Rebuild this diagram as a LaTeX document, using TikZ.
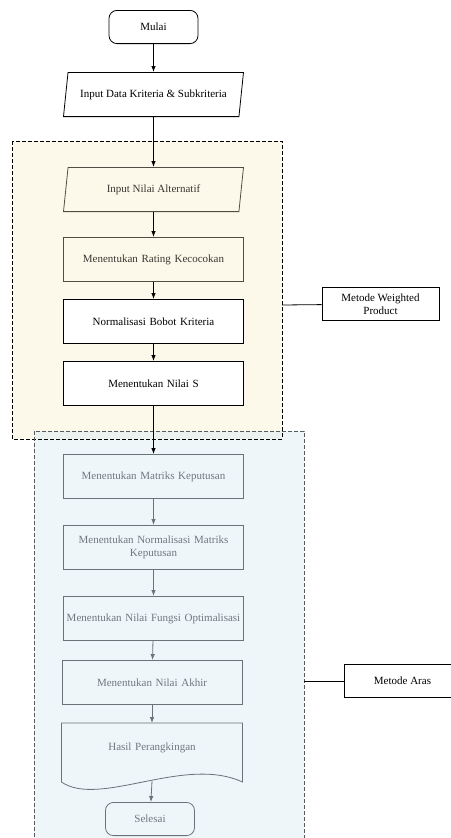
\documentclass[tikz,border=0pt]{standalone}
\usepackage{fontspec}
\setmainfont{Liberation Serif}
\usetikzlibrary{shapes.geometric,arrows.meta,positioning,calc}
\definecolor{wpfill}{RGB}{253,249,234}
\definecolor{arfill}{RGB}{221,237,245}
\definecolor{arbox}{RGB}{238,246,250}
\definecolor{wpline}{RGB}{80,78,68}
\definecolor{arline}{RGB}{105,115,120}
\definecolor{wptext}{RGB}{55,55,50}
\definecolor{artext}{RGB}{112,120,126}

\begin{document}
\begin{tikzpicture}[x=1pt, y=-1pt, >={Latex[length=6pt,width=4.5pt]}, node distance=20pt, line width=0.8pt,
  font=\fontsize{11}{13}\selectfont]
\tikzstyle{terminal}=[draw, rounded corners=8pt, minimum width=89pt, minimum height=33.2pt, inner sep=2pt]
\tikzstyle{process}=[draw, rectangle, minimum width=180.2pt, minimum height=44.2pt, text width=175pt, align=center, inner sep=2pt]
\tikzstyle{io}=[draw, trapezium, trapezium left angle=72, trapezium right angle=108, trapezium stretches body,
  minimum width=180pt, minimum height=44.2pt, inner sep=2pt]
\tikzstyle{labelbox}=[draw, minimum width=117pt, minimum height=33.2pt, align=center, fill=white]
\tikzstyle{group}=[dash pattern=on 4pt off 2pt, line width=0.8pt]
\tikzstyle{wp}=[draw=wpline, fill=wpfill, text=wptext]
\tikzstyle{ar}=[draw=arline, fill=arbox, text=artext]
\useasboundingbox (0,0) rectangle (450,838);
% area of each method
\fill[wpfill] (12,141) rectangle (282,439);
\fill[arfill, fill opacity=0.5] (34,431) rectangle (304,845);
\draw[group] (12,141) rectangle (282,439);
\draw[group, draw=arline!80!black] (34,431) rectangle (304,845);
% flow
\node[terminal] (mulai) at (153.5,27) {Mulai};
\node[io] (inputdata) [below=28pt of mulai] {Input Data Kriteria \& Subkriteria};
\node[io, wp] (alternatif) [below=50pt of inputdata] {Input Nilai Alternatif};
\node[process, wp] (rating) [below=25pt of alternatif] {Menentukan Rating Kecocokan};
\node[process, fill=white] (bobot) [below=17pt of rating] {Normalisasi Bobot Kriteria};
\node[process, fill=white] (nilais) [below=17pt of bobot] {Menentukan Nilai S};
\node[process, ar] (matriks) [below=48pt of nilais] {Menentukan Matriks Keputusan};
\node[process, ar] (normmatriks) [below=26pt of matriks] {Menentukan Normalisasi Matriks\\Keputusan};
\node[process, ar] (fungsi) [below=26pt of normmatriks] {Menentukan Nilai Fungsi Optimalisasi};
\node[process, ar, xshift=-1.5pt] (akhir) [below=19pt of fungsi] {Menentukan Nilai Akhir};
\node[process, draw=none, text=artext, minimum height=49.2pt] (hasil) [below=18pt of akhir] {Hasil Perangkingan};
\draw[arline] (hasil.north west) -- (hasil.north east) -- ($(hasil.south east)+(0,9)$)
  .. controls ($(hasil.south west)+(123,-18)$) and ($(hasil.south west)+(38,35)$) .. ($(hasil.south west)+(0,9)$) -- cycle;
\coordinate (wave) at ($(hasil.south)+(0,8)$);
\node[terminal, ar, xshift=-2pt] (selesai) [below=29pt of hasil] {Selesai};
% method labels
\node[labelbox] (wplabel) at (380.5,304) {Metode Weighted\\Product};
\node[labelbox] (arlabel) at (402.5,681) {Metode Aras};
\coordinate (wpedge) at (282,305);
\coordinate (aredge) at (304,681);
\draw (wpedge) -- (wplabel);
\draw (aredge) -- (arlabel);
% arrows
\draw[->] (mulai) -- (inputdata);
\draw[->] (inputdata) -- (alternatif);
\draw[->] (alternatif) -- (rating);
\draw[->] (rating) -- (bobot);
\draw[->] (bobot) -- (nilais);
\draw[->] (nilais) -- (matriks);
\draw[->, arline] (matriks) -- (normmatriks);
\draw[->, arline] (normmatriks) -- (fungsi);
\draw[->, arline] (fungsi) -- (akhir);
\draw[->, arline] (akhir) -- (hasil);
\draw[->, arline] (wave) -- (selesai);
\end{tikzpicture}
\end{document}
